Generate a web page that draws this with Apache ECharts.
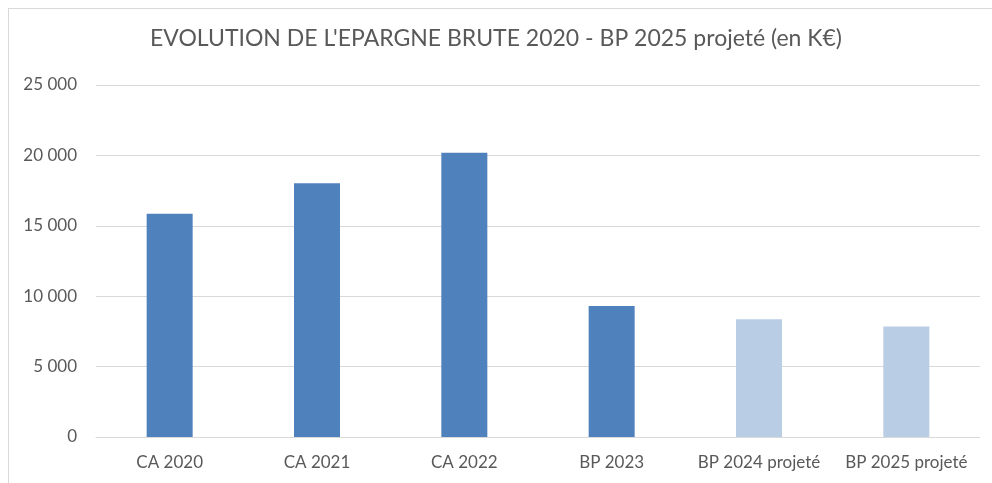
<!DOCTYPE html>
<html>
<head>
<meta charset="utf-8">
<script src="https://cdn.jsdelivr.net/npm/echarts@6/dist/echarts.min.js"></script>
<style>
  html, body { margin: 0; padding: 0; background: #fff; }
  #wrap { position: relative; width: 992px; height: 483px; overflow: hidden; }
  #frame { position: absolute; left: 8px; top: 8px; width: 1000px; height: 500px;
           border-left: 1px solid #D9D9D9; border-top: 1px solid #D9D9D9; box-sizing: border-box; }
  #chart { position: absolute; left: 0; top: 0; width: 992px; height: 483px; }
</style>
</head>
<body>
<div id="wrap">
  <div id="frame"></div>
  <div id="chart"></div>
</div>
<script>
const titleText = "EVOLUTION DE L'EPARGNE BRUTE 2020 - BP 2025 projeté (en K€)";
const categories = ["CA 2020", "CA 2021", "CA 2022", "BP 2023", "BP 2024 projeté", "BP 2025 projeté"];
const epargneBrute = [15850, 18030, 20180, 9300, 8370, 7850];
const yTicks = [0, 5000, 10000, 15000, 20000, 25000];

const fmt = v => String(v).replace(/\B(?=(\d{3})+(?!\d))/g, ' ');
const FONT = 'Lato';
const TXT = '#595959';

const chart = echarts.init(document.getElementById('chart'), null, { renderer: 'canvas' });
chart.setOption({
  animation: false,
  backgroundColor: 'transparent',
  title: {
    text: titleText,
    left: 'center',
    top: 27,
    padding: 0,
    textStyle: { fontFamily: FONT, fontSize: 23, fontWeight: 'normal', color: TXT }
  },
  grid: { left: 96, right: 12, top: 85, bottom: 46, containLabel: false },
  xAxis: {
    type: 'category',
    data: categories,
    axisLine: { show: true, lineStyle: { color: '#D9D9D9', width: 1 } },
    axisTick: { show: false },
    axisLabel: { color: TXT, fontFamily: FONT, fontSize: 17, margin: 17, interval: 0 }
  },
  yAxis: {
    type: 'value',
    min: yTicks[0],
    max: yTicks[yTicks.length - 1],
    interval: yTicks[1] - yTicks[0],
    axisLine: { show: false },
    axisTick: { show: false },
    splitLine: { lineStyle: { color: '#D9D9D9', width: 1 } },
    axisLabel: { color: TXT, fontFamily: FONT, fontSize: 17, margin: 19, formatter: fmt }
  },
  series: [{
    type: 'bar',
    barWidth: 46,
    data: epargneBrute.map((v, i) => ({
      value: v,
      itemStyle: { color: categories[i].indexOf('projeté') >= 0 ? '#B9CDE5' : '#4F81BD' }
    }))
  }]
});
</script>
</body>
</html>
